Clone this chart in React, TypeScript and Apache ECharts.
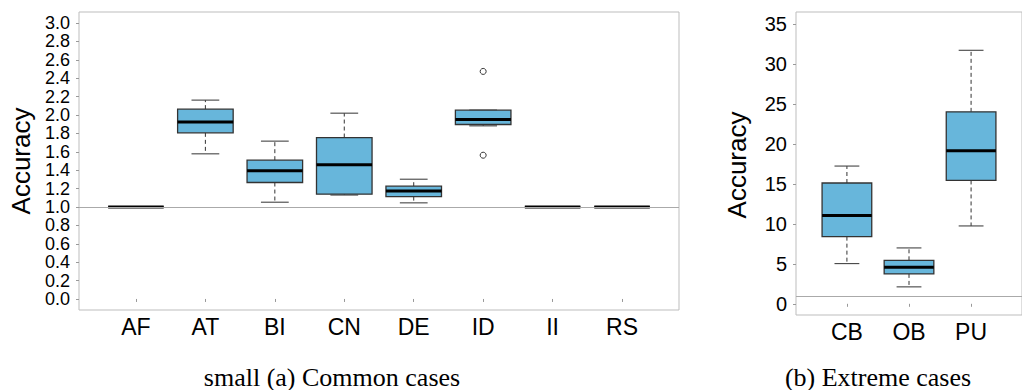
import React, { useEffect, useRef } from "react";
import * as echarts from "echarts";

// ---- data ----
const commonCats = ["AF", "AT", "BI", "CN", "DE", "ID", "II", "RS"];
// [min, q1, median, q3, max]
const commonBoxes = [
  [1.0, 1.0, 1.0, 1.0, 1.0],
  [1.578, 1.806, 1.923, 2.064, 2.162],
  [1.052, 1.266, 1.393, 1.509, 1.716],
  [1.13, 1.139, 1.458, 1.755, 2.02],
  [1.045, 1.113, 1.175, 1.226, 1.302],
  [1.882, 1.897, 1.951, 2.053, 2.053],
  [1.0, 1.0, 1.0, 1.0, 1.0],
  [1.0, 1.0, 1.0, 1.0, 1.0],
];
const commonOutliers = [
  [6, 2.474],
  [6, 1.563],
];
const commonTicks = [0, 0.2, 0.4, 0.6, 0.8, 1.0, 1.2, 1.4, 1.6, 1.8, 2.0, 2.2, 2.4, 2.6, 2.8, 3.0];

const extremeCats = ["CB", "OB", "PU"];
const extremeBoxes = [
  [5.03, 8.4, 11.06, 15.11, 17.23],
  [2.12, 3.74, 4.57, 5.44, 6.99],
  [9.74, 15.43, 19.14, 24.01, 31.71],
];
const extremeTicks = [0, 5, 10, 15, 20, 25, 30, 35];
const referenceValue = 1;

const SANS = "Liberation Sans";
const SERIF = "Liberation Serif";
const FILL = "#67b6db";
const TEXT = "#000";

function boxRender(params: any, api: any) {
  const x = api.value(0);
  const lo = api.value(1);
  const q1 = api.value(2);
  const med = api.value(3);
  const q3 = api.value(4);
  const hi = api.value(5);
  const pLo = api.coord([x, lo]);
  const pQ1 = api.coord([x, q1]);
  const pMed = api.coord([x, med]);
  const pQ3 = api.coord([x, q3]);
  const pHi = api.coord([x, hi]);
  const bw = api.size([0.8, 0])[0];
  const cw = bw / 2;
  const cx = pMed[0];
  const dash = { stroke: "#333", lineWidth: 1, lineDash: [4, 3] };
  const cap = { stroke: "#444", lineWidth: 1.1 };
  return {
    type: "group",
    children: [
      { type: "line", shape: { x1: cx, y1: pQ3[1], x2: cx, y2: pHi[1] }, style: dash },
      { type: "line", shape: { x1: cx, y1: pQ1[1], x2: cx, y2: pLo[1] }, style: dash },
      { type: "line", shape: { x1: cx - cw / 2, y1: pHi[1], x2: cx + cw / 2, y2: pHi[1] }, style: cap },
      { type: "line", shape: { x1: cx - cw / 2, y1: pLo[1], x2: cx + cw / 2, y2: pLo[1] }, style: cap },
      {
        type: "rect",
        shape: { x: cx - bw / 2, y: pQ3[1], width: bw, height: pQ1[1] - pQ3[1] },
        style: { fill: FILL, stroke: "#333", lineWidth: 1.3 },
      },
      { type: "line", shape: { x1: cx - bw / 2, y1: pMed[1], x2: cx + bw / 2, y2: pMed[1] }, style: { stroke: "#000", lineWidth: 3 } },
    ],
  };
}

function xAxisFor(idx: number, cats: string[], max: number) {
  const vals = cats.map((_, i) => i + 1);
  return {
    gridIndex: idx,
    type: "value",
    min: 0.18,
    max,
    axisLine: { show: false },
    splitLine: { show: false },
    axisTick: { show: true, length: 3, customValues: vals, lineStyle: { color: "#999" } },
    axisLabel: {
      customValues: vals,
      formatter: (v: number) => cats[Math.round(v) - 1] ?? "",
      fontFamily: SANS,
      fontSize: 23,
      color: TEXT,
      margin: 5,
    },
  };
}

function yAxisFor(idx: number, ticks: number[], min: number, max: number, digits: number, fs: number) {
  return {
    gridIndex: idx,
    type: "value",
    min,
    max,
    axisLine: { show: false },
    splitLine: { show: false },
    axisTick: { show: true, length: 3, customValues: ticks, lineStyle: { color: "#999" } },
    axisLabel: {
      customValues: ticks,
      formatter: (v: number) => v.toFixed(digits),
      fontFamily: SANS,
      fontSize: fs,
      lineHeight: fs,
      color: TEXT,
      margin: 9,
      hideOverlap: false,
      showMinLabel: true,
      showMaxLabel: true,
    },
  };
}

export default function App() {
  const ref = useRef<HTMLDivElement>(null);
  useEffect(() => {
    if (!ref.current) return;
    const chart = echarts.init(ref.current, undefined, { renderer: "svg" });
    const refLine = {
      silent: true,
      symbol: ["none", "none"],
      label: { show: false },
      lineStyle: { color: "#aaa", width: 1, type: "solid" },
      data: [{ yAxis: referenceValue }],
    };
    chart.setOption({
      animation: false,
      backgroundColor: "#fff",
      grid: [
        { left: 79, top: 12, width: 600, height: 298, show: true, borderColor: "#bdbdbd", borderWidth: 1 },
        { left: 796, top: 12, width: 253, height: 303, show: true, borderColor: "#bdbdbd", borderWidth: 1 },
      ],
      xAxis: [xAxisFor(0, commonCats, 8.82), xAxisFor(1, extremeCats, 3.82)],
      yAxis: [
        yAxisFor(0, commonTicks, -0.12, 3.12, 1, 18),
        yAxisFor(1, extremeTicks, -1.4, 36.5, 0, 20),
      ],
      series: [
        {
          type: "custom",
          xAxisIndex: 0,
          yAxisIndex: 0,
          renderItem: boxRender,
          encode: { x: 0, y: [1, 2, 3, 4, 5] },
          data: commonBoxes.map((b, i) => [i + 1, ...b]),
          markLine: refLine,
          z: 3,
        },
        {
          type: "scatter",
          xAxisIndex: 0,
          yAxisIndex: 0,
          symbol: "circle",
          symbolSize: 6,
          itemStyle: { color: "#ffffff", borderColor: "#333333", borderWidth: 1, opacity: 1 },
          data: commonOutliers,
          z: 10,
        },
        {
          type: "custom",
          xAxisIndex: 1,
          yAxisIndex: 1,
          renderItem: boxRender,
          encode: { x: 0, y: [1, 2, 3, 4, 5] },
          data: extremeBoxes.map((b, i) => [i + 1, ...b]),
          markLine: refLine,
          z: 3,
        },
      ],
      graphic: [
        {
          type: "text",
          x: 21,
          y: 161,
          rotation: Math.PI / 2,
          style: { text: "Accuracy", fontFamily: SANS, fontSize: 26, fill: TEXT, align: "center", verticalAlign: "middle" },
        },
        {
          type: "text",
          x: 737,
          y: 165,
          rotation: Math.PI / 2,
          style: { text: "Accuracy", fontFamily: SANS, fontSize: 26, fill: TEXT, align: "center", verticalAlign: "middle" },
        },
        {
          type: "text",
          x: 332,
          y: 377,
          style: { text: "small (a) Common cases", fontFamily: SERIF, fontSize: 26, fill: TEXT, align: "center", verticalAlign: "middle" },
        },
        {
          type: "text",
          x: 878,
          y: 377,
          style: { text: "(b) Extreme cases", fontFamily: SERIF, fontSize: 26, fill: TEXT, align: "center", verticalAlign: "middle" },
        },
      ],
    });
    return () => chart.dispose();
  }, []);
  return (
    <div
      ref={ref}
      style={{ position: "fixed", left: 0, top: 0, width: 1022, height: 390, background: "#fff" }}
    />
  );
}
